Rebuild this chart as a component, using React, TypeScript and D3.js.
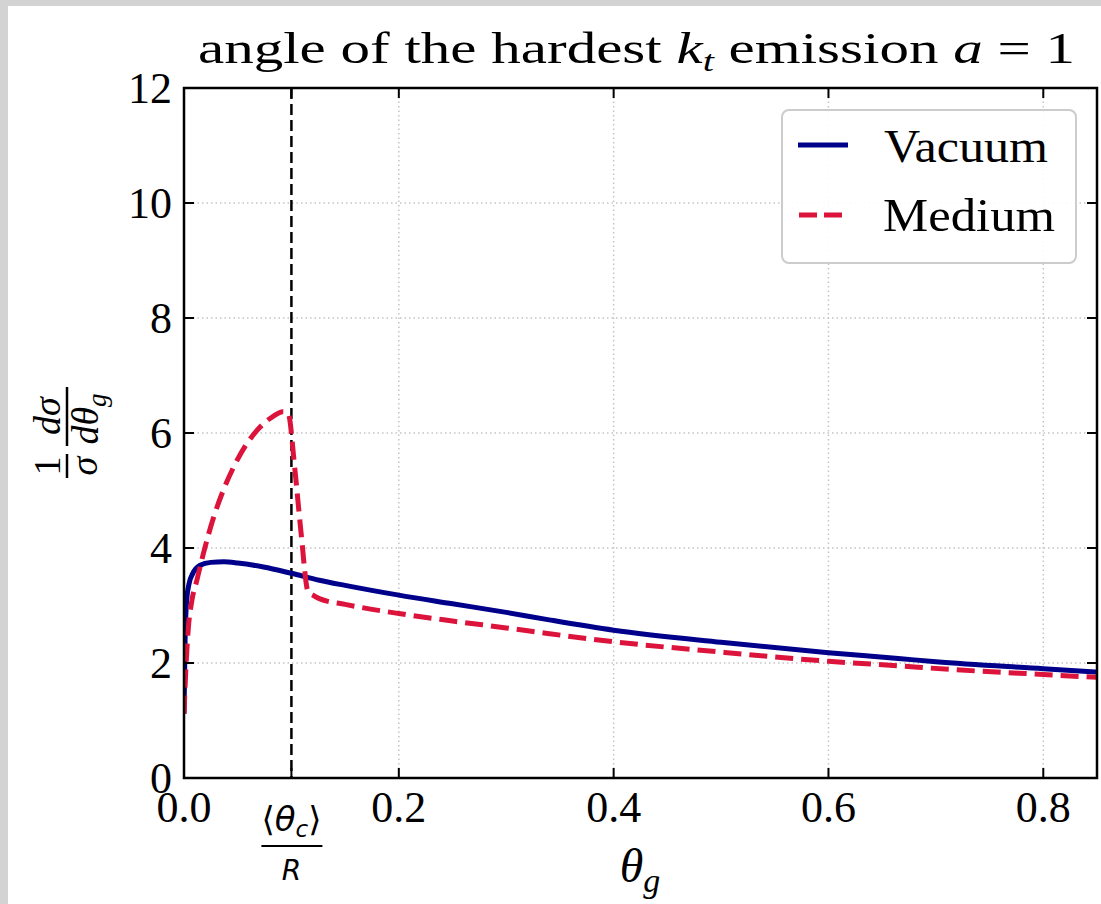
import React from "react";
import * as d3 from "d3";

const thetaVac = [0, 0.001, 0.0025, 0.005, 0.008, 0.015, 0.025, 0.037, 0.05, 0.074, 0.1, 0.126, 0.15, 0.2, 0.25, 0.3, 0.34, 0.4, 0.5, 0.6, 0.665, 0.7, 0.8, 0.85];
const vacuum = [1.12, 2.4, 3.1, 3.4, 3.55, 3.7, 3.75, 3.76, 3.74, 3.67, 3.56, 3.44, 3.35, 3.18, 3.03, 2.88, 2.75, 2.57, 2.36, 2.18, 2.08, 2.02, 1.9, 1.84];

const thetaMed = [0, 0.002, 0.004, 0.007, 0.012, 0.018, 0.027, 0.0365, 0.046, 0.058, 0.0706, 0.083, 0.092, 0.097, 0.103, 0.109, 0.1155, 0.12, 0.126, 0.15, 0.2, 0.25, 0.3, 0.34, 0.4, 0.5, 0.6, 0.665, 0.712, 0.8, 0.85];
const medium = [1.12, 2.0, 2.6, 3.05, 3.44, 3.9, 4.5, 5.0, 5.4, 5.8, 6.1, 6.29, 6.37, 6.34, 5.41, 4.26, 3.24, 3.18, 3.12, 3.02, 2.86, 2.73, 2.61, 2.51, 2.37, 2.19, 2.03, 1.95, 1.89, 1.8, 1.75];

const xTicks = [0, 0.2, 0.4, 0.6, 0.8];
const yTicks = [0, 2, 4, 6, 8, 10, 12];
const thetaC = 0.1;
const seriesNames = ["Vacuum", "Medium"];

const W = 1101, H = 904;
const L = 184, R = 1097, T = 88, B = 778;

export default function App() {
  const x = d3.scaleLinear().domain([0, 0.85]).range([L, R]);
  const y = d3.scaleLinear().domain([0, 12]).range([B, T]);
  const lineGen = d3.line<[number, number]>().x(d => x(d[0])).y(d => y(d[1])).curve(d3.curveMonotoneX);
  const vacPath = lineGen(thetaVac.map((t, i) => [t, vacuum[i]]) as [number, number][]) || "";
  const medPath = lineGen(thetaMed.map((t, i) => [t, medium[i]]) as [number, number][]) || "";
  const fmt = d3.format(".1f");
  const serif = "'Liberation Serif', 'DejaVu Serif', serif";
  const sans = "'DejaVu Sans', sans-serif";
  const tickLen = 10;
  const gridStyle = { stroke: "#c4c4c4", strokeWidth: 1.5, strokeDasharray: "1.5,3" };

  return (
    <svg width={W} height={H} style={{ position: "absolute", left: 0, top: 0 }} xmlns="http://www.w3.org/2000/svg">
      <defs>
        <clipPath id="plotclip">
          <rect x={L} y={T} width={R - L} height={B - T} />
        </clipPath>
      </defs>
      <rect x={0} y={0} width={W} height={H} fill="#d3d3d3" />
      <rect x={8} y={6} width={W} height={H} fill="#ffffff" />

      {/* grid */}
      {xTicks.filter(t => t > 0).map(t => (
        <line key={"gx" + t} x1={x(t)} x2={x(t)} y1={T} y2={B} {...gridStyle} />
      ))}
      {yTicks.filter(t => t > 0 && t < 12).map(t => (
        <line key={"gy" + t} x1={L} x2={R} y1={y(t)} y2={y(t)} {...gridStyle} />
      ))}

      {/* vertical theta_c line */}
      <line x1={x(thetaC)} x2={x(thetaC)} y1={T} y2={B} stroke="#000" strokeWidth={2.5} strokeDasharray="11,5" />

      {/* curves */}
      <g clipPath="url(#plotclip)">
        <path d={vacPath} fill="none" stroke="#00008B" strokeWidth={5} />
        <path d={medPath} fill="none" stroke="#DC143C" strokeWidth={5} strokeDasharray="18,8" />
      </g>

      {/* ticks */}
      {xTicks.map(t => (
        <g key={"xt" + t}>
          <line x1={x(t)} x2={x(t)} y1={B} y2={B - tickLen} stroke="#000" strokeWidth={2} />
          <line x1={x(t)} x2={x(t)} y1={T} y2={T + tickLen} stroke="#000" strokeWidth={2} />
          <text x={x(t)} y={822} textAnchor="middle" fontFamily={serif} fontSize={44}>{fmt(t)}</text>
        </g>
      ))}
      <line x1={x(thetaC)} x2={x(thetaC)} y1={B} y2={B - tickLen} stroke="#000" strokeWidth={2} />
      <line x1={x(thetaC)} x2={x(thetaC)} y1={T} y2={T + tickLen} stroke="#000" strokeWidth={2} />
      {yTicks.map(t => (
        <g key={"yt" + t}>
          <line x1={L} x2={L + tickLen} y1={y(t)} y2={y(t)} stroke="#000" strokeWidth={2} />
          <line x1={R} x2={R - tickLen} y1={y(t)} y2={y(t)} stroke="#000" strokeWidth={2} />
          <text x={172} y={y(t) + 15} textAnchor="end" fontFamily={serif} fontSize={44}>{t}</text>
        </g>
      ))}

      {/* custom theta_c tick label */}
      <g fontFamily={sans} fontStyle="italic">
        <text x={x(thetaC)} y={831} textAnchor="middle" fontSize={34} textLength={60} lengthAdjust="spacingAndGlyphs">
          <tspan fontStyle="normal">⟨</tspan>θ<tspan fontSize={23} dy={6}>c</tspan><tspan fontStyle="normal" dy={-6}>⟩</tspan>
        </text>
        <line x1={x(thetaC) - 30} x2={x(thetaC) + 31} y1={846} y2={846} stroke="#000" strokeWidth={2.2} />
        <text x={x(thetaC)} y={880} textAnchor="middle" fontSize={28}>R</text>
      </g>

      {/* spines */}
      <rect x={L} y={T} width={R - L} height={B - T} fill="none" stroke="#000" strokeWidth={2.5} />

      {/* legend */}
      <rect x={782} y={110} width={294} height={153} rx={7} ry={7} fill="#ffffff" fillOpacity={0.9} stroke="#cccccc" strokeWidth={2} />
      <line x1={798} x2={848} y1={145} y2={145} stroke="#00008B" strokeWidth={5} />
      <line x1={799} x2={849} y1={215} y2={215} stroke="#DC143C" strokeWidth={5} strokeDasharray="18,7" />
      <text x={884} y={162} fontFamily={serif} fontSize={46} textLength={164} lengthAdjust="spacingAndGlyphs">{seriesNames[0]}</text>
      <text x={883} y={231} fontFamily={serif} fontSize={46} textLength={172} lengthAdjust="spacingAndGlyphs">{seriesNames[1]}</text>

      {/* title */}
      <text x={198} y={63} fontFamily={serif} fontSize={44} textLength={877} lengthAdjust="spacingAndGlyphs">
        angle of the hardest <tspan fontStyle="italic">k</tspan><tspan fontStyle="italic" fontSize={30} dy={8}>t</tspan><tspan dy={-8}> emission </tspan><tspan fontStyle="italic">a</tspan> = 1
      </text>

      {/* x label */}
      <text x={640} y={882} textAnchor="middle" fontFamily={serif} fontStyle="italic" fontSize={48}>
        θ<tspan fontSize={34} dy={10}>g</tspan>
      </text>

      {/* y label */}
      <g transform="translate(67,432) rotate(-90)" fontFamily={serif} fontStyle="italic" fontSize={38}>
        <text x={-34} y={-7} textAnchor="middle" fontStyle="normal">1</text>
        <line x1={-46} x2={-22} y1={0} y2={0} stroke="#000" strokeWidth={2.5} />
        <text x={-34} y={30} textAnchor="middle">σ</text>
        <text x={16} y={-7} textAnchor="middle">dσ</text>
        <line x1={-14} x2={45} y1={0} y2={0} stroke="#000" strokeWidth={2.5} />
        <text x={13} y={31} textAnchor="middle">dθ<tspan fontSize={27} dy={8}>g</tspan></text>
      </g>
    </svg>
  );
}
